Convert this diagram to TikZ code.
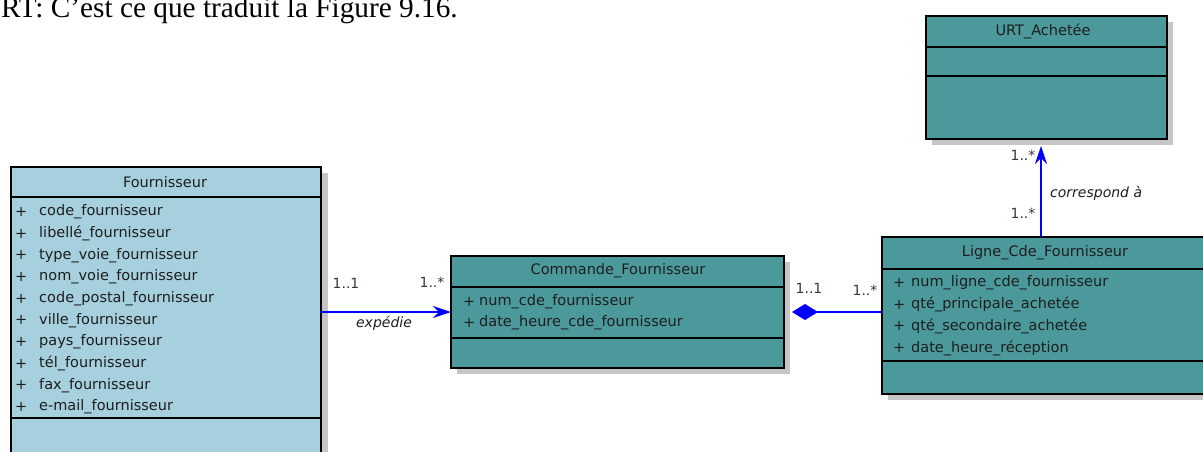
\documentclass[tikz,border=0pt]{standalone}
\usepackage{fontspec}
\setmainfont{Liberation Serif}
\newfontfamily\umlfont{DejaVu Sans}
\usetikzlibrary{arrows.meta,calc}
\definecolor{lblue}{HTML}{A6D0DE}
\definecolor{tealbox}{HTML}{4B999B}
\definecolor{shad}{HTML}{C6C6C6}
\definecolor{multc}{HTML}{3F3340}
\definecolor{txt}{HTML}{1E1E1E}
\begin{document}
\begin{tikzpicture}[x=1pt,y=-1pt,
  classbox/.style={draw=black, line width=1.3pt, rectangle, anchor=north west, inner sep=0pt, outer sep=0pt},
  sepline/.style={draw=black, line width=1.3pt},
  attr/.style={anchor=west, inner sep=0pt, font=\umlfont\fontsize{14.5}{17}\selectfont, text=txt},
  ctitle/.style={inner sep=0pt, font=\umlfont\fontsize{14.5}{17}\selectfont, text=txt},
  mult/.style={inner sep=0pt, font=\umlfont\fontsize{14}{16}\selectfont, text=multc},
  role/.style={inner sep=0pt, font=\umlfont\itshape\fontsize{14}{16}\selectfont, text=txt},
  assoc/.style={draw=blue, line width=1.4pt},
  navtip/.style={-{Stealth[length=18pt,width=12pt,inset=6pt]}}
]
\useasboundingbox (0,0) rectangle (1203,451);

% caption text (clipped at the top)
\node[anchor=base west, inner sep=0pt, font=\fontsize{29.3}{33}\selectfont] (cap) at (1,17) {RT: C'est ce que traduit la Figure 9.16.};

% shadows
\fill[shad] (17,173) rectangle (328,470);
\fill[shad] (457,262) rectangle (790,374);
\fill[shad] (888,243) rectangle (1212,400);
\fill[shad] (932,22) rectangle (1173,145);

% class boxes
\node[classbox, fill=lblue, minimum width=310pt, minimum height=300pt] (F) at (11,167) {};
\node[classbox, fill=tealbox, minimum width=333pt, minimum height=112pt] (C) at (451,256) {};
\node[classbox, fill=tealbox, minimum width=324pt, minimum height=157pt] (L) at (882,237) {};
\node[classbox, fill=tealbox, minimum width=241pt, minimum height=123pt] (U) at (926,16) {};

% compartment lines
\draw[sepline] (F.west |- 0,197) -- (F.east |- 0,197);
\draw[sepline] (F.west |- 0,418) -- (F.east |- 0,418);
\draw[sepline] (C.west |- 0,287) -- (C.east |- 0,287);
\draw[sepline] (C.west |- 0,338) -- (C.east |- 0,338);
\draw[sepline] (L.west |- 0,269) -- (L.east |- 0,269);
\draw[sepline] (L.west |- 0,361) -- (L.east |- 0,361);
\draw[sepline] (U.west |- 0,47) -- (U.east |- 0,47);
\draw[sepline] (U.west |- 0,76) -- (U.east |- 0,76);

% titles
\node[ctitle] (Ft) at (165,182) {Fournisseur};
\node[ctitle] (Ct) at (618,271) {Commande\_Fournisseur};
\node[ctitle] (Lt) at (1045,253) {Ligne\_Cde\_Fournisseur};
\node[ctitle] (Ut) at (1043,31) {URT\_Achetée};

% attributes
\foreach \t [count=\i from 0] in {code\_fournisseur, libellé\_fournisseur, type\_voie\_fournisseur, nom\_voie\_fournisseur, code\_postal\_fournisseur, ville\_fournisseur, pays\_fournisseur, tél\_fournisseur, fax\_fournisseur, e-mail\_fournisseur}{
  \node[attr] (Fp\i) at (15,212+\i*21.67) {+};
  \node[attr] (Fa\i) at (39,212+\i*21.67) {\t};
}
\foreach \t [count=\i from 0] in {num\_cde\_fournisseur, date\_heure\_cde\_fournisseur}{
  \node[attr] (Cp\i) at (463,302+\i*21) {+};
  \node[attr] (Ca\i) at (479,302+\i*21) {\t};
}
\foreach \t [count=\i from 0] in {num\_ligne\_cde\_fournisseur, qté\_principale\_achetée, qté\_secondaire\_achetée, date\_heure\_réception}{
  \node[attr] (Lp\i) at (893,283+\i*21.7) {+};
  \node[attr] (La\i) at (911,283+\i*21.7) {\t};
}

% connectors
\draw[assoc, navtip] (F.east |- C.west) -- (C.west);
\draw[assoc, {Diamond[length=26pt,width=16pt]}-, shorten <=8pt] (C.east) -- (C.east -| L.west);
\draw[assoc, navtip, shorten >=7pt] ([xshift=-3pt]L.north) -- ([xshift=-3pt]L.north |- U.south);

% labels
\node[mult] (m1) at (346,283) {1..1};
\node[mult] (m2) at (432,282) {1..*};
\node[role] (r1) at (384,323) {expédie};
\node[mult] (m3) at (809,288) {1..1};
\node[mult] (m4) at (865,290) {1..*};
\node[mult] (m5) at (1023,155) {1..*};
\node[mult] (m6) at (1023,213) {1..*};
\node[role, anchor=west] (r2) at (1050,193) {correspond à};
\end{tikzpicture}
\end{document}
